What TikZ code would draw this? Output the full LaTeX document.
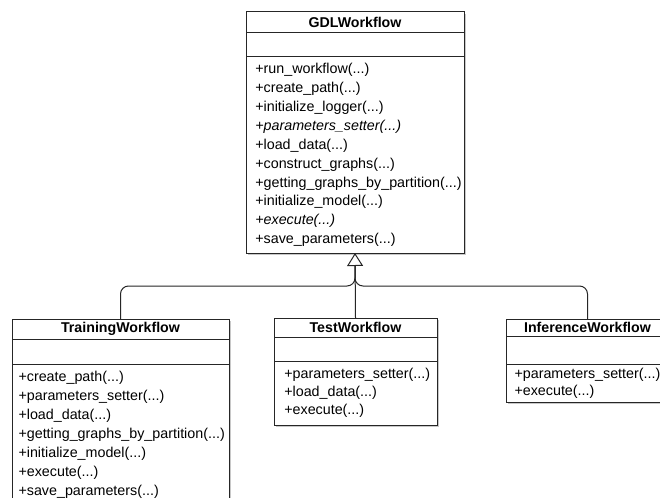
\documentclass[tikz,border=0pt]{standalone}
\usepackage{fontspec}
\setmainfont{Liberation Sans}
\usetikzlibrary{arrows.meta,shadows}
\begin{document}
\begin{tikzpicture}[x=1bp,y=-1bp,
  umlline/.style={draw=black!85, line width=1bp},
  umlframe/.style={umlline, anchor=north west, fill=white, inner sep=0pt, outer sep=0pt,
    drop shadow={shadow xshift=1.6bp, shadow yshift=-1.6bp, opacity=0.3, fill=black!70}},
  umlpart/.style={umlline, anchor=north west, inner sep=0pt, outer sep=0pt},
  umlhead/.style={umlpart, font=\fontsize{14.2bp}{16bp}\selectfont\bfseries},
  umlops/.style={umlpart, align=left, font=\fontsize{14.3bp}{18.9bp}\selectfont},
  inherit/.style={umlline, rounded corners=8bp},
  inherittip/.style={umlline, -{Triangle[open, length=13bp, width=16bp, fill=white]}}
]
\useasboundingbox[fill=white] (0,0) rectangle (660,498);

% ---------- GDLWorkflow ----------
\node[umlframe, minimum width=218bp, minimum height=241bp] (gdlbox) at (246,12) {};
\node[umlhead, minimum width=218bp, minimum height=21bp] (gdl) at (gdlbox.north west) {GDLWorkflow};
\node[umlpart, minimum width=218bp, minimum height=24bp] (gdlattr) at (gdl.south west) {};
\node[umlops, minimum height=196bp, inner xsep=9.3bp, text width=199.4bp] (gdlops) at (gdlattr.south west)
  {+run\_workflow(...)\\
   +create\_path(...)\\
   +initialize\_logger(...)\\
   \textit{+parameters\_setter(...)}\\
   +load\_data(...)\\
   +construct\_graphs(...)\\
   +getting\_graphs\_by\_partition(...)\\
   +initialize\_model(...)\\
   \textit{+execute(...)}\\
   +save\_parameters(...)};

% ---------- TrainingWorkflow ----------
\node[umlframe, minimum width=217bp, minimum height=186bp] (trainbox) at (12,319) {};
\node[umlhead, minimum width=217bp, minimum height=20bp] (train) at (trainbox.north west) {TrainingWorkflow};
\node[umlpart, minimum width=217bp, minimum height=25bp] (trainattr) at (train.south west) {};
\node[umlops, minimum height=141bp, inner xsep=6.5bp, text width=204bp, font=\fontsize{14.3bp}{19bp}\selectfont] (trainops) at (trainattr.south west)
  {+create\_path(...)\\
   +parameters\_setter(...)\\
   +load\_data(...)\\
   +getting\_graphs\_by\_partition(...)\\
   +initialize\_model(...)\\
   +execute(...)\\
   +save\_parameters(...)};

% ---------- TestWorkflow ----------
\node[umlframe, minimum width=163bp, minimum height=107bp] (testbox) at (274,318) {};
\node[umlhead, minimum width=163bp, minimum height=19bp] (test) at (testbox.north west) {TestWorkflow};
\node[umlpart, minimum width=163bp, minimum height=24bp] (testattr) at (test.south west) {};
\node[umlops, minimum height=64bp, inner xsep=10.3bp, text width=142.4bp, font=\fontsize{14.3bp}{18.2bp}\selectfont] (testops) at (testattr.south west)
  {+parameters\_setter(...)\\
   +load\_data(...)\\
   +execute(...)};

% ---------- InferenceWorkflow ----------
\node[umlframe, minimum width=163bp, minimum height=83bp] (infbox) at (506,319) {};
\node[umlhead, minimum width=163bp, minimum height=17bp] (inf) at (infbox.north west) {InferenceWorkflow};
\node[umlpart, minimum width=163bp, minimum height=28bp] (infattr) at (inf.south west) {};
\node[umlops, minimum height=38bp, inner xsep=8.5bp, text width=146bp, font=\fontsize{14.3bp}{17bp}\selectfont] (infops) at (infattr.south west)
  {+parameters\_setter(...)\\
   +execute(...)};

% ---------- generalisation connectors ----------
\coordinate (tipbase) at ([yshift=-13bp]gdlops.south);
\coordinate (join) at (tipbase |- 0,286);
\draw[inherit] (train.north) |- (join) -- (tipbase);
\draw[inherit] (inf.north) |- (join) -- (tipbase);
\draw[inherittip] (test.north) -- (gdlops.south);
\end{tikzpicture}
\end{document}
